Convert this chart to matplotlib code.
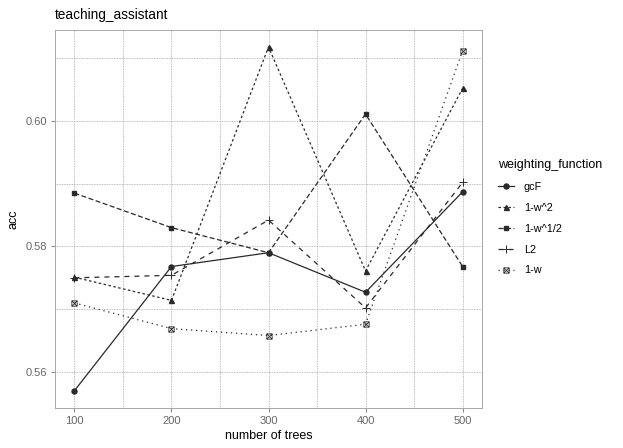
import matplotlib
matplotlib.use('Agg')
import matplotlib.pyplot as plt
from matplotlib.path import Path
from matplotlib.ticker import MultipleLocator

plt.rcParams['font.family'] = ['Liberation Sans', 'DejaVu Sans']

# data
trees = [100, 200, 300, 400, 500]
acc_gcF = [0.5570, 0.5768, 0.5790, 0.5727, 0.5887]
acc_w2 = [0.5751, 0.5714, 0.6118, 0.5761, 0.6052]
acc_wsqrt = [0.5885, 0.5830, 0.5790, 0.6011, 0.5768]
acc_L2 = [0.5750, 0.5754, 0.5842, 0.5702, 0.5902]
acc_w = [0.5710, 0.5669, 0.5658, 0.5676, 0.6112]
series_names = ['gcF', '1-w^2', '1-w^1/2', 'L2', '1-w']

# square with a cross (ggplot shape 7)
box_x = Path([(-1, -1), (1, -1), (1, 1), (-1, 1), (-1, -1),
              (-1, -1), (1, 1), (-1, 1), (1, -1)],
             [Path.MOVETO, Path.LINETO, Path.LINETO, Path.LINETO, Path.CLOSEPOLY,
              Path.MOVETO, Path.LINETO, Path.MOVETO, Path.LINETO])

W, H = 623, 448
fig = plt.figure(figsize=(W / 100, H / 100), dpi=100)
ax = fig.add_axes([55 / W, (H - 407.7) / H, 427 / W, 377.7 / H])

line_col = '#2a2a2a'
styles = [
    dict(ls='-', marker='o', ms=3.6),
    dict(ls=(0, (2, 2)), marker='^', ms=3.6),
    dict(ls=(0, (4, 2)), marker='s', ms=3.2),
    dict(ls=(0, (4, 4)), marker='+', ms=6, mew=0.7),
    dict(ls=(0, (1, 3)), marker=box_x, ms=3.8, mew=0.6, mfc='none'),
]
all_acc = [acc_gcF, acc_w2, acc_wsqrt, acc_L2, acc_w]
for vals, name, st in zip(all_acc, series_names, styles):
    ax.plot(trees, vals, color=line_col, lw=0.9, mec=line_col, label=name, **st)

ax.set_xlim(80, 520)
ax.set_ylim(0.5543, 0.6145)
ax.set_xticks(trees)
ax.xaxis.set_minor_locator(MultipleLocator(50))
ax.set_yticks([0.56, 0.58, 0.60])
ax.yaxis.set_minor_locator(MultipleLocator(0.01))
ax.set_yticklabels(['0.56', '0.58', '0.60'])

grid_kw = dict(color='#a8a8a8', ls=(0, (1, 1)), lw=0.6)
ax.grid(True, which='major', **grid_kw)
ax.grid(True, which='minor', **grid_kw)
ax.set_axisbelow(True)
for sp in ax.spines.values():
    sp.set_color('#a8a8a8')
    sp.set_linestyle((0, (1, 1)))
    sp.set_linewidth(0.7)

ax.tick_params(which='major', length=3, color='#888888', labelcolor='#666666',
               labelsize=8, pad=3)
ax.tick_params(which='minor', length=0)

ax.set_xlabel('number of trees', fontsize=9, labelpad=3)
ax.set_ylabel('acc', fontsize=9, labelpad=4)
fig.text(55 / W, 1 - 15 / H, 'teaching_assistant', fontsize=9.8, va='center', ha='left')

leg = ax.legend(title='weighting_function', loc='upper left',
                bbox_to_anchor=(494 / W, 1 - 155 / H), bbox_transform=fig.transFigure,
                frameon=False, fontsize=7.8, title_fontsize=9, handlelength=1.45,
                labelspacing=1.0, handletextpad=0.9, borderaxespad=0)
leg._legend_box.align = 'left'

fig.savefig('out.png', dpi=100)
